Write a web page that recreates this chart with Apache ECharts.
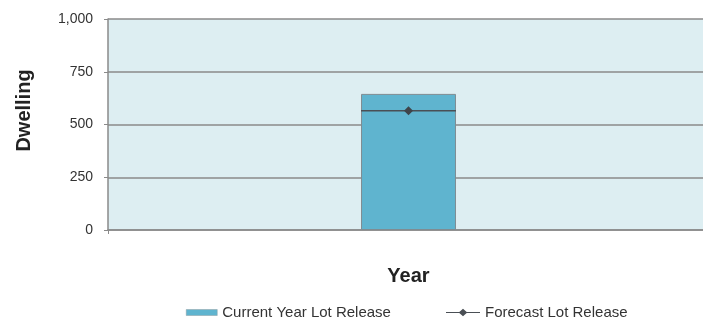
<!DOCTYPE html>
<html>
<head>
<meta charset="utf-8">
<script src="https://cdn.jsdelivr.net/npm/echarts@6/dist/echarts.min.js"></script>
<style>
  html, body { margin: 0; padding: 0; background: #ffffff; overflow: hidden; }
  /* plot area runs slightly past the right edge of the window */
  #chart { width: 709px; height: 322px; }
</style>
</head>
<body>
<div id="chart"></div>
<script>
// Lot release data
const categories = [''];
const currentYearLotRelease = [645];
const forecastLotRelease = [565];
const yTicks = [0, 250, 500, 750, 1000];

const FONT = '"Liberation Sans", Arial, sans-serif';
const BAR_FRACTION = 0.158;

const chart = echarts.init(document.getElementById('chart'), null, { renderer: 'canvas' });

// Forecast marker: horizontal line across the bar width with a diamond at its centre
function renderForecast(params, api) {
  const p = api.coord([api.value(0), api.value(1)]);
  const band = api.size([1, 0])[0];
  const half = band * BAR_FRACTION / 2;
  const d = 4.5;
  return {
    type: 'group',
    children: [
      {
        type: 'line',
        shape: { x1: p[0] - half, y1: p[1], x2: p[0] + half, y2: p[1] },
        style: { stroke: '#4a4f55', lineWidth: 1.5 }
      },
      {
        type: 'polygon',
        shape: { points: [[p[0], p[1] - d], [p[0] + d, p[1]], [p[0], p[1] + d], [p[0] - d, p[1]]] },
        style: { fill: '#3f444a' }
      }
    ]
  };
}

const legendText = { fontFamily: FONT, fontSize: 15, color: '#333333' };

chart.setOption({
  animation: false,
  textStyle: { fontFamily: FONT },
  grid: { left: 108, right: 0, top: 19, bottom: 92, containLabel: false,
          show: true, backgroundColor: '#ddeef2', borderWidth: 0 },
  // vertical axis title
  graphic: [
    {
      type: 'text',
      x: 24,
      y: 110.5,
      rotation: Math.PI / 2,
      style: {
        text: 'Dwelling',
        fontFamily: FONT, fontSize: 20, fontWeight: 'bold', fill: '#222222',
        align: 'center', verticalAlign: 'middle'
      }
    }
  ],
  legend: [
    {
      left: 181,
      top: 300,
      itemWidth: 31,
      itemHeight: 6,
      textStyle: legendText,
      data: [
        { name: 'Current Year Lot Release', icon: 'rect',
          itemStyle: { color: '#5fb4cf', borderColor: '#8a9aa0', borderWidth: 0.5 } }
      ]
    },
    {
      left: 441,
      top: 300,
      itemWidth: 34,
      itemHeight: 8,
      textStyle: legendText,
      data: [
        { name: 'Forecast Lot Release',
          icon: 'path://M0,3.6L12.5,3.6L16,0.5L19.5,3.6L32,3.6L32,4.4L19.5,4.4L16,7.5L12.5,4.4L0,4.4Z',
          itemStyle: { color: '#4a4f55' } }
      ]
    }
  ],
  xAxis: {
    type: 'category',
    data: categories,
    name: 'Year',
    nameLocation: 'middle',
    nameGap: 36,
    nameTextStyle: { fontFamily: FONT, fontSize: 20, fontWeight: 'bold', color: '#222222' },
    axisLine: { lineStyle: { color: '#8a8a8a', width: 1.5 } },
    axisTick: { show: true, length: 4, lineStyle: { color: '#8a8a8a' } },
    axisLabel: { show: false }
  },
  yAxis: {
    type: 'value',
    min: yTicks[0],
    max: yTicks[yTicks.length - 1],
    interval: 250,
    axisLine: { show: true, lineStyle: { color: '#8a8a8a', width: 1.5 } },
    axisTick: { show: true, length: 4, lineStyle: { color: '#8a8a8a' } },
    axisLabel: {
      fontFamily: FONT, fontSize: 14, color: '#333333', margin: 15,
      formatter: v => v.toLocaleString('en-US')
    },
    splitLine: { show: true, lineStyle: { color: '#8a8a8a', width: 1.5 } }
  },
  series: [
    {
      name: 'Current Year Lot Release',
      type: 'bar',
      data: currentYearLotRelease,
      barWidth: (BAR_FRACTION * 100) + '%',
      itemStyle: { color: '#5fb4cf', borderColor: '#7f8c92', borderWidth: 1 },
      z: 3
    },
    {
      name: 'Forecast Lot Release',
      type: 'custom',
      renderItem: renderForecast,
      encode: { x: 0, y: 1 },
      data: forecastLotRelease.map((v, i) => [i, v]),
      z: 4
    }
  ]
});
</script>
</body>
</html>
